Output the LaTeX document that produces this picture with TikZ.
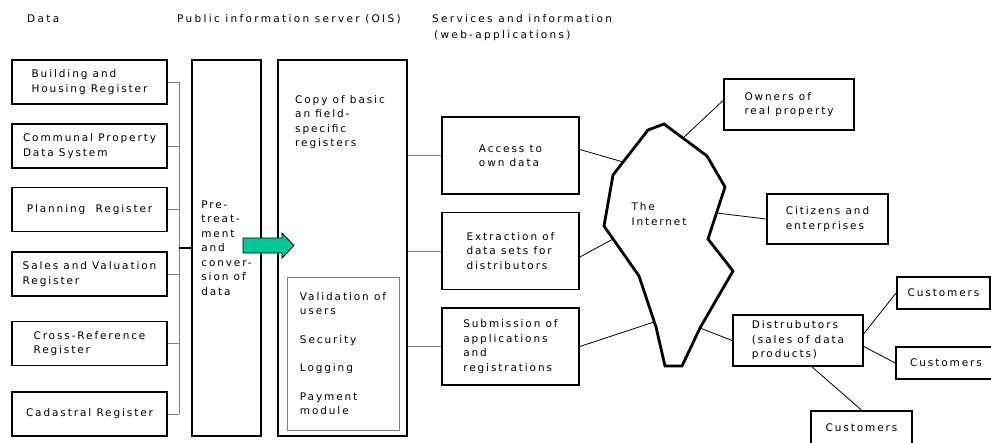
\documentclass[tikz,border=0pt]{standalone}
\usepackage{fontspec}
\setmainfont[LetterSpace=18]{DejaVu Sans}
\newfontfamily\headfont[LetterSpace=22]{DejaVu Sans}
\usetikzlibrary{calc}
\definecolor{flowgreen}{HTML}{00C896}

\tikzset{
  box/.style={draw, line width=1.8pt, align=left, inner sep=0pt},
  head/.style={font=\headfont\fontsize{10.5}{16.5}\selectfont, align=left, inner sep=0pt},
  link/.style={gray, line width=1pt},
  netlink/.style={black, line width=0.8pt}
}

\begin{document}
\begin{tikzpicture}[x=1pt,y=-1pt, font=\fontsize{10.5}{14.5}\selectfont]
\useasboundingbox[fill=white] (0,0) rectangle (991,442);

% column headings
\node[head, anchor=base west] (hdata) at (27,22) {Data};
\node[head, anchor=base west] (hois) at (177,22) {Public information server (OIS)};
\node[head, anchor=north west] (hweb) at (432,14) {Services and information\\\hspace{2pt}(web-applications)};

% registers
\foreach \n/\y/\t in {b1/82/{Building and\\Housing Register},
                      b2/146/{Communal Property\\Data System},
                      b3/209.5/{Planning~ Register},
                      b4/274/{Sales and Valuation\\Register},
                      b5/343.5/{Cross-Reference\\Register},
                      b6/414/{Cadastral Register}} {
 \node[box, minimum width=155pt, minimum height=44pt] (\n) at (89.5,\y) {\t};
}
\coordinate (bus) at (179,0);
\foreach \n in {b1,b2,b3,b4,b5,b6} {
 \draw[link] (\n.east) -- (\n.east -| bus);
}
\draw[link] (b1.east -| bus) -- (b6.east -| bus);

% pre-treatment
\node[box, minimum width=69pt, minimum height=376pt] (pre) at (226.5,248)
  {Pre-\\treat-\\ment\\and\\conver-\\sion of\\data};
\coordinate (join) at (179,248);
\draw[line width=1.8pt] (join) -- (pre.west);

% OIS
\node[box, minimum width=129pt, minimum height=376pt] (ois) at (342.5,248) {};
\node[anchor=north west, align=left, inner sep=0pt] (copy) at (295,95)
  {Copy of basic\\an field-\\specific\\registers};
\node[draw=gray, line width=1pt, minimum width=112pt, minimum height=153pt, align=left, inner sep=0pt] (tools) at (343,353.5)
  {Validation of\\users\\[14pt]Security\\[14pt]Logging\\[14pt]Payment\\module};
\draw[fill=flowgreen, line width=0.8pt] (243,238) -- (282,238) -- (282,233) -- (294,245.5)
  -- (282,258) -- (282,253) -- (243,253) -- cycle;

% web applications
\foreach \n/\y/\t in {acc/155.5/{Access to\\own data},
                      ext/251/{Extraction of\\data sets for\\distributors},
                      sub/346.5/{Submission of\\applications\\and\\registrations}} {
 \node[box, minimum width=137pt, minimum height=77pt] (\n) at (510.5,\y) {\t};
 \draw[link] (ois.east |- \n.west) -- (\n.west);
}

% the internet
\draw[line width=2.8pt, line join=miter] (613,175) -- (648,130) -- (664,124) -- (707,156)
  -- (725,187) -- (708,239) -- (733,271) -- (700,328) -- (682,366) -- (665,366)
  -- (656,327) -- (639,276) -- (604,226) -- cycle;
\node[align=left, inner sep=0pt] (net) at (659,214) {The\\Internet};
\coordinate (nacc) at (623,162);
\coordinate (next) at (613,239);
\coordinate (nsub) at (654,322);
\coordinate (nown) at (683,138);
\coordinate (ncit) at (716.5,213);
\coordinate (ndist) at (700,328);

% users
\node[box, minimum width=130pt, minimum height=51pt] (own) at (789,104.5) {Owners of\\real property};
\node[box, minimum width=121pt, minimum height=50pt] (cit) at (827.5,219) {Citizens and\\enterprises};
\node[box, minimum width=130pt, minimum height=51pt] (dist) at (798,340.5) {Distrubutors\\(sales of data\\products)};
\node[box, minimum width=93pt, minimum height=32pt] (cust1) at (943.5,293) {Customers};
\node[box, minimum width=100pt, minimum height=32pt] (cust2) at (946,363) {Customers};
\node[box, minimum width=101pt, minimum height=34pt] (cust3) at (861.5,428) {Customers};

\draw[netlink] ([yshift=6pt]acc.east) -- (nacc);
\draw[netlink] ([yshift=-6pt]ext.east) -- (next);
\draw[netlink] (sub.east) -- (nsub);
\draw[netlink] ([yshift=4pt]own.west) -- (nown);
\draw[netlink] (cit.west) -- (ncit);
\draw[netlink] (ndist) -- (dist.west);
\draw[netlink] ([yshift=7pt]dist.east) -- (cust1.west);
\draw[netlink] ([yshift=-6pt]dist.east) -- (cust2.west);
\draw[netlink] ([xshift=14pt]dist.south) -- (cust3.north);
\end{tikzpicture}
\end{document}
